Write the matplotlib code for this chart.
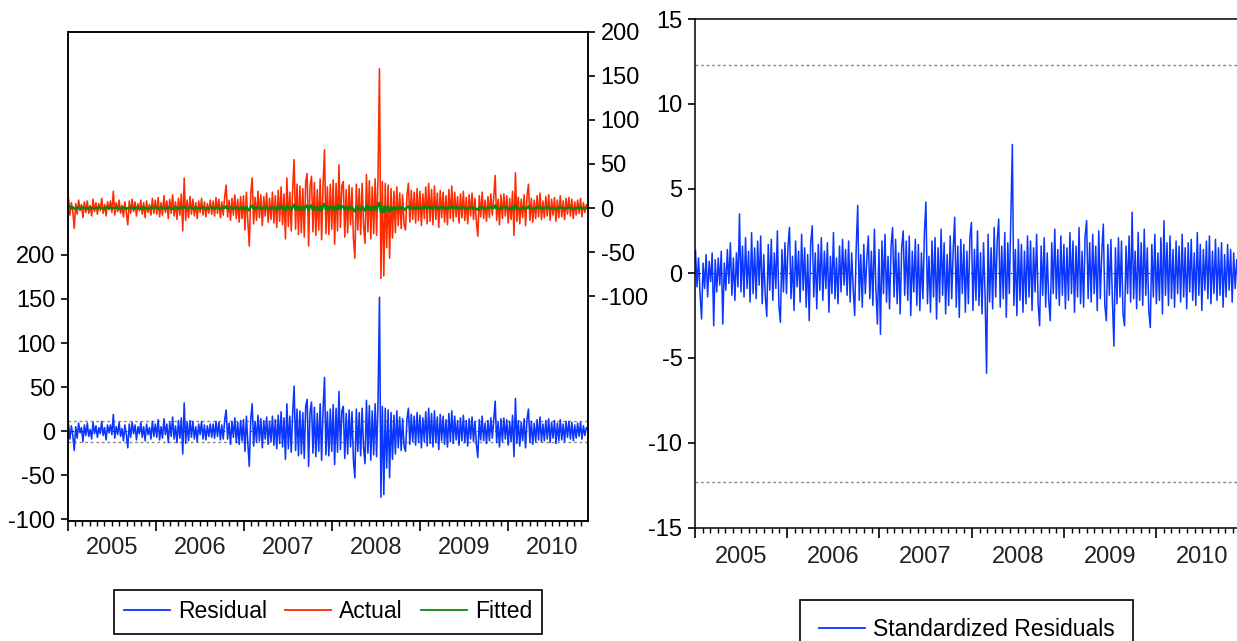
import numpy as np
import pandas as pd
import matplotlib
matplotlib.use('Agg')
import matplotlib.pyplot as plt
import matplotlib.dates as mdates
import matplotlib.transforms as mtransforms
from datetime import datetime

plt.rcParams['font.family'] = ['Liberation Sans Narrow', 'Liberation Sans', 'DejaVu Sans']
plt.rcParams['font.size'] = 17
plt.rcParams['axes.unicode_minus'] = False

# ---- data (one value every 6 days from 2005-01-03) ----
actual = [
    12, -8, 6, -4, -23, 5, -7, 9, -3, 4, -11, 7, -5, 8, -6, 3, -9, 10, -4, 6,
    -7, 5, -3, 11, -6, 4, -9, 7, -2, 8, -5, 19, -8, 6, -4, 9, -6, 3, -10, 7,
    -5, -19, 8, -6, 10, -4, 7, -9, 5, -3, 9, -7, 6, -11, 8, -5, 4, -8, 11, -6,
    9, -7, 12, -10, 6, -8, 14, -5, 8, -12, 10, -6, 15, -9, 7, -13, 11, -8, 16, -26,
    34, -14, 9, -11, 13, -7, 10, -9, 6, -12, 8, -5, 11, -8, 7, -10, 5, -6, 9, -7,
    8, -9, 12, -6, 10, -11, 7, -8, 13, 26, -10, 9, -14, 11, -8, 15, -12, 10, -16, 13,
    -12, 14, -25, 18, -15, -43, 16, 34, -18, 12, -14, 19, -11, 15, -20, 13, -9, 17, -16, 11,
    -13, 18, -17, 14, -22, 20, -15, 24, -19, 16, -35, 34, -21, 18, -26, 22, 55, -24, 27, -30,
    25, -28, 22, -33, 30, 39, -43, 24, 36, -27, 29, -31, 21, -25, 33, -36, 26, 66, -29, 24,
    -30, 27, -24, 32, -41, 28, -26, 49, -22, 25, 30, -33, 21, -28, 26, -19, 23, -35, -57, 27,
    -25, 22, -30, 28, -20, -40, 38, -27, 31, -35, 24, -29, 33, -31, 36, 158, -80, 30, -77, 28,
    -45, 26, -57, 22, -34, 19, -28, 24, -20, 17, -23, 15, -18, -25, 14, 28, -16, 20, -13, 18,
    -17, 22, -14, 19, -20, 16, -12, 24, -18, 28, -15, 21, -19, 25, -13, 17, -22, 20, -11, 18,
    -16, 14, -19, 21, -12, 25, -15, 18, -10, 13, -17, 16, -11, 19, -14, 12, -18, 15, -9, 17,
    -13, 11, -16, -32, 14, -10, 18, -12, 9, -15, 13, -11, 16, -8, 12, 37, -14, 10, -19, 15,
    -12, 16, -9, 14, -17, 11, -13, 19, -31, 40, -15, 12, -18, 10, -11, 15, -20, 13, 27, -14,
    11, -16, 9, -12, 14, -10, 17, -13, 8, -11, 13, -9, 15, -14, 10, -8, 12, -15, 9, -11,
    14, -10, 8, -13, 11, -7, 12, -9, 10, -12, 7, -8, 9, -6, 11, -10, 6, -5, 4, 2,
]
fitted = [
    4, 1, 0, 1, -1, 0, 1, 0, -1, 0, 1, 0, 0, -1, 0, 1, 0, 0, -1, 0,
    0, 1, 0, 0, -1, 0, 1, 0, 0, 1, -1, 0, 0, 1, 0, -1, 0, 0, 1, 0,
    -1, 0, 0, 1, 0, -1, 0, 1, 0, 0, -1, 0, 1, 0, 0, -1, 0, 1, 0, 0,
    1, 0, -1, 0, 1, 0, 0, -1, 0, 1, 0, 0, -1, 0, 1, 0, -1, 0, 1, 0,
    2, 0, -1, 0, 1, 0, -1, 0, 1, 0, 0, -1, 0, 1, 0, 0, -1, 0, 1, 0,
    0, -1, 1, 0, 0, -1, 0, 1, 0, 2, -1, 0, 1, 0, -1, 0, 1, 0, -1, 1,
    -1, 1, -2, 1, -1, -3, 2, 3, -1, 1, -1, 1, 0, 1, -1, 1, 0, 1, -1, 0,
    -1, 1, -1, 1, -2, 2, -1, 2, -1, 1, -3, 3, -1, 1, -2, 1, 4, -2, 2, -2,
    2, -2, 1, -2, 2, 3, -3, 2, 3, -2, 2, -2, 1, -2, 2, -3, 2, 5, -2, 2,
    -2, 2, -1, 2, -3, 2, -2, 4, -1, 2, 2, -2, 1, -2, 2, -1, 1, -2, -4, 2,
    -2, 1, -2, 2, -1, -3, 3, -2, 2, -2, 1, -2, 2, -2, 3, 6, -5, 2, -5, 2,
    -3, 2, -4, 1, -2, 1, -2, 1, -1, 1, -1, 1, -1, -2, 1, 2, -1, 1, -1, 1,
    -1, 1, -1, 1, -1, 1, 0, 2, -1, 2, -1, 1, -1, 2, 0, 1, -1, 1, 0, 1,
    -1, 1, -1, 1, 0, 2, -1, 1, 0, 1, -1, 1, 0, 1, -1, 0, -1, 1, 0, 1,
    -1, 0, -1, -2, 1, 0, 1, -1, 0, -1, 1, 0, 1, 0, 0, 3, -1, 0, -1, 1,
    0, 1, 0, 1, -1, 0, -1, 1, -2, 3, -1, 0, -1, 0, 0, 1, -1, 0, 2, -1,
    0, -1, 0, 0, 1, 0, 1, -1, 0, 0, 1, 0, 1, -1, 0, 0, 0, -1, 0, 0,
    1, 0, 0, -1, 0, 0, 1, 0, 0, -1, 0, 0, 0, 0, 1, -1, 0, 0, 0, 0,
]
std_resid = [
    1.35, -0.8, 0.9, -1.2, -2.7, 0.6, -0.9, 1.1, -1.4, 0.7, -0.5, 1.2, -3.1, 0.8, -1.1, 0.9, -0.7, 1.3, -3.0, 0.6,
    -1.0, 1.4, -0.6, 1.8, -1.3, 0.9, -1.6, 1.2, -0.8, 3.5, -1.1, 1.6, -1.4, 2.1, -0.9, 1.3, -1.7, 2.4, -1.2, 1.5,
    -1.5, 1.9, -0.7, 2.2, -1.8, 1.1, -1.3, -2.55, 1.7, -1.0, 2.0, -1.6, 1.2, -0.9, 2.5, -1.9, -2.9, 1.4, -1.1, 1.8,
    -1.2, 1.6, 2.7, -1.5, 1.0, -2.2, 1.9, -0.8, 1.3, -1.7, 2.3, -1.0, 1.5, -2.0, 1.1, -2.8, 1.8, 2.8, -1.4, 1.2,
    -2.1, 1.7, -1.0, 2.1, -1.6, 1.3, -0.9, 1.8, -2.3, 1.0, -1.2, 2.4, -1.5, 0.9, -1.8, 1.6, -1.1, 2.0, -0.7, 1.4,
    -1.3, 1.9, -1.7, 1.2, -0.9, -2.5, 1.5, 4.0, -1.6, 1.1, -2.0, 1.7, -1.2, 0.8, 2.2, -1.5, 1.3, -1.9, 2.6, -1.0,
    -3.0, 1.4, -3.6, 1.9, -1.2, 2.3, -1.7, 1.0, -2.1, 1.6, 2.7, -1.4, 2.0, -1.8, 1.2, -2.4, 1.5, 2.5, -1.3, 1.9,
    -1.6, 2.2, -2.5, 1.3, -1.1, 2.0, -1.9, 1.7, -2.2, 1.2, -1.5, 2.4, 4.2, -1.8, 1.0, -2.3, 1.9, -1.4, 2.1, -2.7,
    1.5, -1.7, 2.6, -1.3, 1.8, -2.4, 1.1, -1.9, 2.2, -1.5, 1.4, 3.3, -2.0, 1.6, -2.6, 2.0, -1.2, 1.7, -2.3, 1.3,
    -1.8, 2.1, 3.0, -2.2, 1.4, -1.6, 2.5, -1.9, 1.2, -2.4, 1.8, -1.3, -5.9, 2.3, -1.7, 1.5, -2.1, 2.7, -1.4, 1.9,
    3.2, -2.0, 1.6, -1.5, 2.4, -2.6, 1.8, -1.2, 3.3, 7.6, -1.9, 1.4, -2.5, 2.0, -1.6, 1.7, -2.3, 1.3, -1.8, 2.2,
    -1.4, 1.9, -2.2, 1.5, -1.1, 2.3, -1.8, -3.1, 1.6, -1.3, 2.1, -2.0, 1.2, -1.6, -2.8, 1.8, -1.2, 2.6, -1.5, 1.4,
    -1.9, 2.2, -1.3, 1.7, -2.1, 1.5, -1.6, 2.4, -1.2, 1.9, -2.3, 1.6, -1.4, 2.7, -1.8, 1.3, -2.0, 2.2, 3.1, -1.5,
    1.8, -1.7, 2.3, -1.2, 1.6, -2.2, 2.5, -1.5, 1.2, 2.9, -1.9, -2.8, 1.7, -1.3, 2.0, -1.6, -4.3, 1.5, -1.8, 2.1,
    -1.4, 1.9, -2.4, -3.1, 1.6, -1.2, 2.2, -1.7, 3.6, -1.5, 1.3, -2.1, 2.4, -1.6, 1.8, -1.9, 2.6, -1.3, 1.5, -2.2,
    -3.2, 1.7, -1.4, 2.3, -1.8, 1.2, -1.6, 2.1, -2.4, 3.1, -1.3, 1.8, -1.9, 2.2, -1.5, 1.4, -2.0, 1.9, -1.2, 1.6,
    -1.7, 2.3, -1.4, 1.5, -2.1, 1.8, -1.1, 2.0, -1.6, 1.2, -1.9, 2.4, -1.3, 1.7, -2.2, 1.4, -1.0, 1.9, -1.5, 2.2,
    -1.8, 1.3, -1.2, 2.0, -1.6, 1.5, -1.3, 1.8, -2.0, 1.1, -1.4, 1.7, -1.0, 1.4, -1.7, 1.2, -0.9, 0.8, -0.6, -0.5,
]
years = [2005, 2006, 2007, 2008, 2009, 2010]
resid_ticks = [-100, -50, 0, 50, 100, 150, 200]
actual_ticks = [-100, -50, 0, 50, 100, 150, 200]
std_ticks = [-15, -10, -5, 0, 5, 10, 15]
resid_band = 12.0      # +/- 1 S.E. lines on the residual graph
std_band = 12.3

actual = np.array(actual, dtype=float)
fitted = np.array(fitted, dtype=float)
residual = actual - fitted
std_resid = np.array(std_resid, dtype=float)
dates = pd.date_range('2005-01-03', periods=len(actual), freq='6D')

BLUE = '#0a36ff'
RED = '#ff2a00'
GREEN = '#0d850d'
W, H = 1237, 641
xlim = (datetime(2005, 1, 1), datetime(2010, 11, 28))


def px_box(x0, y0, x1, y1):
    return [x0 / W, 1 - y1 / H, (x1 - x0) / W, (y1 - y0) / H]


def style_xaxis(ax, label_off):
    ax.set_xlim(xlim)
    ax.xaxis.set_major_locator(mdates.YearLocator())
    ax.xaxis.set_minor_locator(mdates.MonthLocator())
    ax.xaxis.set_major_formatter(matplotlib.ticker.NullFormatter())
    ax.tick_params(axis='x', which='major', direction='out', length=7, width=1.2, top=False)
    ax.tick_params(axis='x', which='minor', direction='out', length=3.5, width=1.0, top=False)
    trans = mtransforms.blended_transform_factory(ax.transData, ax.transAxes)
    for y in years:
        ax.text(mdates.date2num(datetime(y, 7, 2)), label_off, str(y), transform=trans,
                ha='center', va='center', color='#222222', fontsize=17)


fig = plt.figure(figsize=(W / 100, H / 100), dpi=100)

# ---- left: residual / actual / fitted ----
ax = fig.add_axes(px_box(68, 31.7, 588, 520.5))
ax2 = ax.twinx()
ax.axhline(0, color='black', lw=0.8, ls=(0, (1, 3)), zorder=1)
for b in (resid_band, -resid_band):
    ax.axhline(b, color='#888888', lw=1.0, ls=(0, (2, 2)), zorder=1)
l_res, = ax.plot(dates, residual, color=BLUE, lw=1.15, zorder=2)
l_act, = ax2.plot(dates, actual, color=RED, lw=1.15)
l_fit, = ax2.plot(dates, fitted, color=GREEN, lw=1.7)

ax.set_ylim(-101.5, 453.5)
ax.set_yticks(resid_ticks)
ax2.set_ylim(-354.4, 200)
ax2.set_yticks(actual_ticks)
ax.tick_params(axis='y', direction='out', length=5, width=1.2, pad=4)
ax2.tick_params(axis='y', direction='out', length=5, width=1.2, pad=4)
style_xaxis(ax, -0.056)
for a in (ax, ax2):
    for s in a.spines.values():
        s.set_linewidth(1.1)

leg = fig.legend([l_res, l_act, l_fit], ['Residual', 'Actual', 'Fitted'],
                 loc='upper center', bbox_to_anchor=(328 / W, 1 - 590 / H), ncol=3,
                 fancybox=False, edgecolor='black', framealpha=1, borderaxespad=0,
                 handlelength=2.0, handletextpad=0.35, columnspacing=0.8, borderpad=0.45,
                 fontsize=16.5)
leg.get_frame().set_linewidth(1.2)
for h in leg.get_lines():
    h.set_linewidth(1.3)

# ---- right: standardized residuals ----
bx = fig.add_axes(px_box(695, 19, 1240, 527.5))
bx.axhline(0, color='black', lw=0.8, ls=(0, (1, 3)), zorder=1)
for b in (std_band, -std_band):
    bx.axhline(b, color='#888888', lw=1.0, ls=(0, (2, 2)), zorder=1)
l_std, = bx.plot(dates, std_resid, color=BLUE, lw=1.1, zorder=2)
bx.set_ylim(-15, 15)
bx.set_yticks(std_ticks)
bx.tick_params(axis='y', direction='out', length=5, width=1.2, pad=4, right=False)
style_xaxis(bx, -0.058)
for s in bx.spines.values():
    s.set_linewidth(1.1)

leg2 = fig.legend([l_std], ['Standardized Residuals'],
                  loc='upper center', bbox_to_anchor=(966.5 / W, 1 - 600 / H),
                  fancybox=False, edgecolor='black', framealpha=1, borderaxespad=0,
                  handlelength=2.0, handletextpad=0.35, borderpad=0.8, fontsize=16.5)
leg2.get_frame().set_linewidth(1.2)
for h in leg2.get_lines():
    h.set_linewidth(1.3)

fig.savefig('out.png', dpi=100)
